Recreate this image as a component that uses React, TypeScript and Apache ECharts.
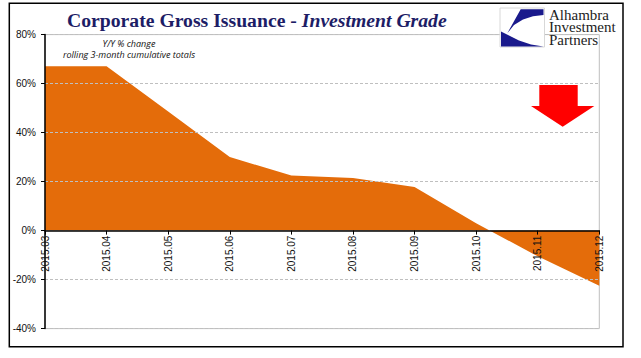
import React, { useEffect, useRef } from "react";
import * as echarts from "echarts";

const categories = ["2015.03", "2015.04", "2015.05", "2015.06", "2015.07", "2015.08", "2015.09", "2015.10", "2015.11", "2015.12"];
const yoyChange = [67.1, 67.1, 48.6, 30.0, 22.5, 21.5, 17.8, 3.0, -10.5, -22.5];
const yTicks = { min: -40, max: 80, interval: 20 };

const titleMain = "Corporate Gross Issuance - ";
const titleItalic = "Investment Grade";
const subtitleLines = ["Y/Y % change", "rolling 3-month cumulative totals"];
const logoLines = ["Alhambra", "Investment", "Partners"];

const W = 641;
const H = 358;
const GRID = { left: 45, right: 41.7, top: 34.6, bottom: 29.4 };

export default function App() {
  const ref = useRef<HTMLDivElement>(null);
  useEffect(() => {
    if (!ref.current) return;
    const chart = echarts.init(ref.current, undefined, { renderer: "svg" });
    const navy = "#1d1d66";
    const logoBlue = "#1a1a8c";
    const gridH = H - GRID.top - GRID.bottom;
    const zeroOffset = -gridH * (0 - yTicks.min) / (yTicks.max - yTicks.min);
    chart.setOption({
      animation: false,
      backgroundColor: "#ffffff",
      title: {
        text: `{a|${titleMain}}{b|${titleItalic}}`,
        left: 67,
        top: 8,
        padding: 0,
        textStyle: {
          rich: {
            a: { fontFamily: "Liberation Serif", fontSize: 19.7, color: navy, lineHeight: 24 },
            b: { fontFamily: "Liberation Serif", fontSize: 19.7, fontStyle: "italic", color: navy, lineHeight: 24 },
          },
        },
      },
      grid: {
        ...GRID,
        outerBoundsMode: "none",
        containLabel: false,
        show: true,
        borderColor: "#bfbfbf",
        borderWidth: 1,
        backgroundColor: "transparent",
      },
      xAxis: {
        type: "category",
        data: categories,
        boundaryGap: false,
        position: "bottom",
        offset: zeroOffset,
        z: 5,
        axisLine: { show: true, onZero: false, lineStyle: { color: "#000", width: 1.5 } },
        axisTick: { show: true, length: 4, lineStyle: { color: "#000" } },
        axisLabel: {
          rotate: 90,
          margin: 5,
          fontSize: 10,
          fontFamily: "Liberation Sans",
          color: "#111",
          interval: 0,
          hideOverlap: false,
        },
        splitLine: { show: false },
      },
      yAxis: {
        type: "value",
        min: yTicks.min,
        max: yTicks.max,
        interval: yTicks.interval,
        z: 5,
        axisLine: { show: true, lineStyle: { color: "#000", width: 1.5 } },
        axisTick: { show: true, length: 4, lineStyle: { color: "#000" } },
        axisLabel: {
          formatter: "{value}%",
          margin: 9,
          fontSize: 10,
          fontFamily: "Liberation Sans",
          color: "#111",
        },
        splitLine: { show: true, lineStyle: { color: "#bfbfbf", type: [3, 2], width: 1 } },
      },
      series: [
        {
          type: "line",
          data: yoyChange,
          symbol: "none",
          lineStyle: { width: 0 },
          areaStyle: { color: "#E46C0A", opacity: 1 },
          z: 2,
        },
      ],
      graphic: [
        {
          type: "rect",
          shape: { x: 9.3, y: 3.3, width: 613.7, height: 343.4 },
          style: { fill: "none", stroke: "#000", lineWidth: 1.5 },
          silent: true,
          z: 100,
        },
        {
          type: "text",
          x: 129,
          y: 37.5,
          style: {
            text: subtitleLines.join("\n"),
            fontFamily: "Open Sans",
            fontSize: 9,
            lineHeight: 11,
            fontStyle: "italic",
            fill: "#111",
            align: "center",
            verticalAlign: "top",
          },
          z: 50,
        },
        {
          type: "rect",
          shape: { x: 500, y: 8, width: 44.5, height: 39 },
          style: { fill: "#ffffff", stroke: "#d8d8d8", lineWidth: 1 },
          z: 60,
        },
        {
          type: "polygon",
          shape: {
            points: [
              [520.7, 9.3], [543.5, 9.3], [543.5, 15], [533, 16.3], [523, 19.5], [514, 25], [507.3, 33.3],
            ],
          },
          style: { fill: logoBlue },
          z: 61,
        },
        {
          type: "polygon",
          shape: {
            points: [
              [501, 31.5], [501, 46.5], [543.5, 46.5], [531, 44.5], [519, 40.5], [509, 35.5],
            ],
          },
          style: { fill: logoBlue },
          z: 61,
        },
        {
          type: "text",
          x: 549,
          y: 8.5,
          style: {
            text: logoLines.join("\n"),
            fontFamily: "Liberation Serif",
            fontSize: 15,
            lineHeight: 12.6,
            fill: "#222",
            align: "left",
            verticalAlign: "top",
          },
          z: 61,
        },
        {
          type: "polygon",
          shape: {
            points: [
              [539.3, 85], [577.7, 85], [577.7, 106], [594.3, 106], [562.7, 126.7], [531, 106], [539.3, 106],
            ],
          },
          style: { fill: "#ff0000" },
          z: 50,
        },
      ],
    });
    return () => chart.dispose();
  }, []);
  return <div ref={ref} style={{ position: "fixed", left: 0, top: 0, width: W, height: H }} />;
}
